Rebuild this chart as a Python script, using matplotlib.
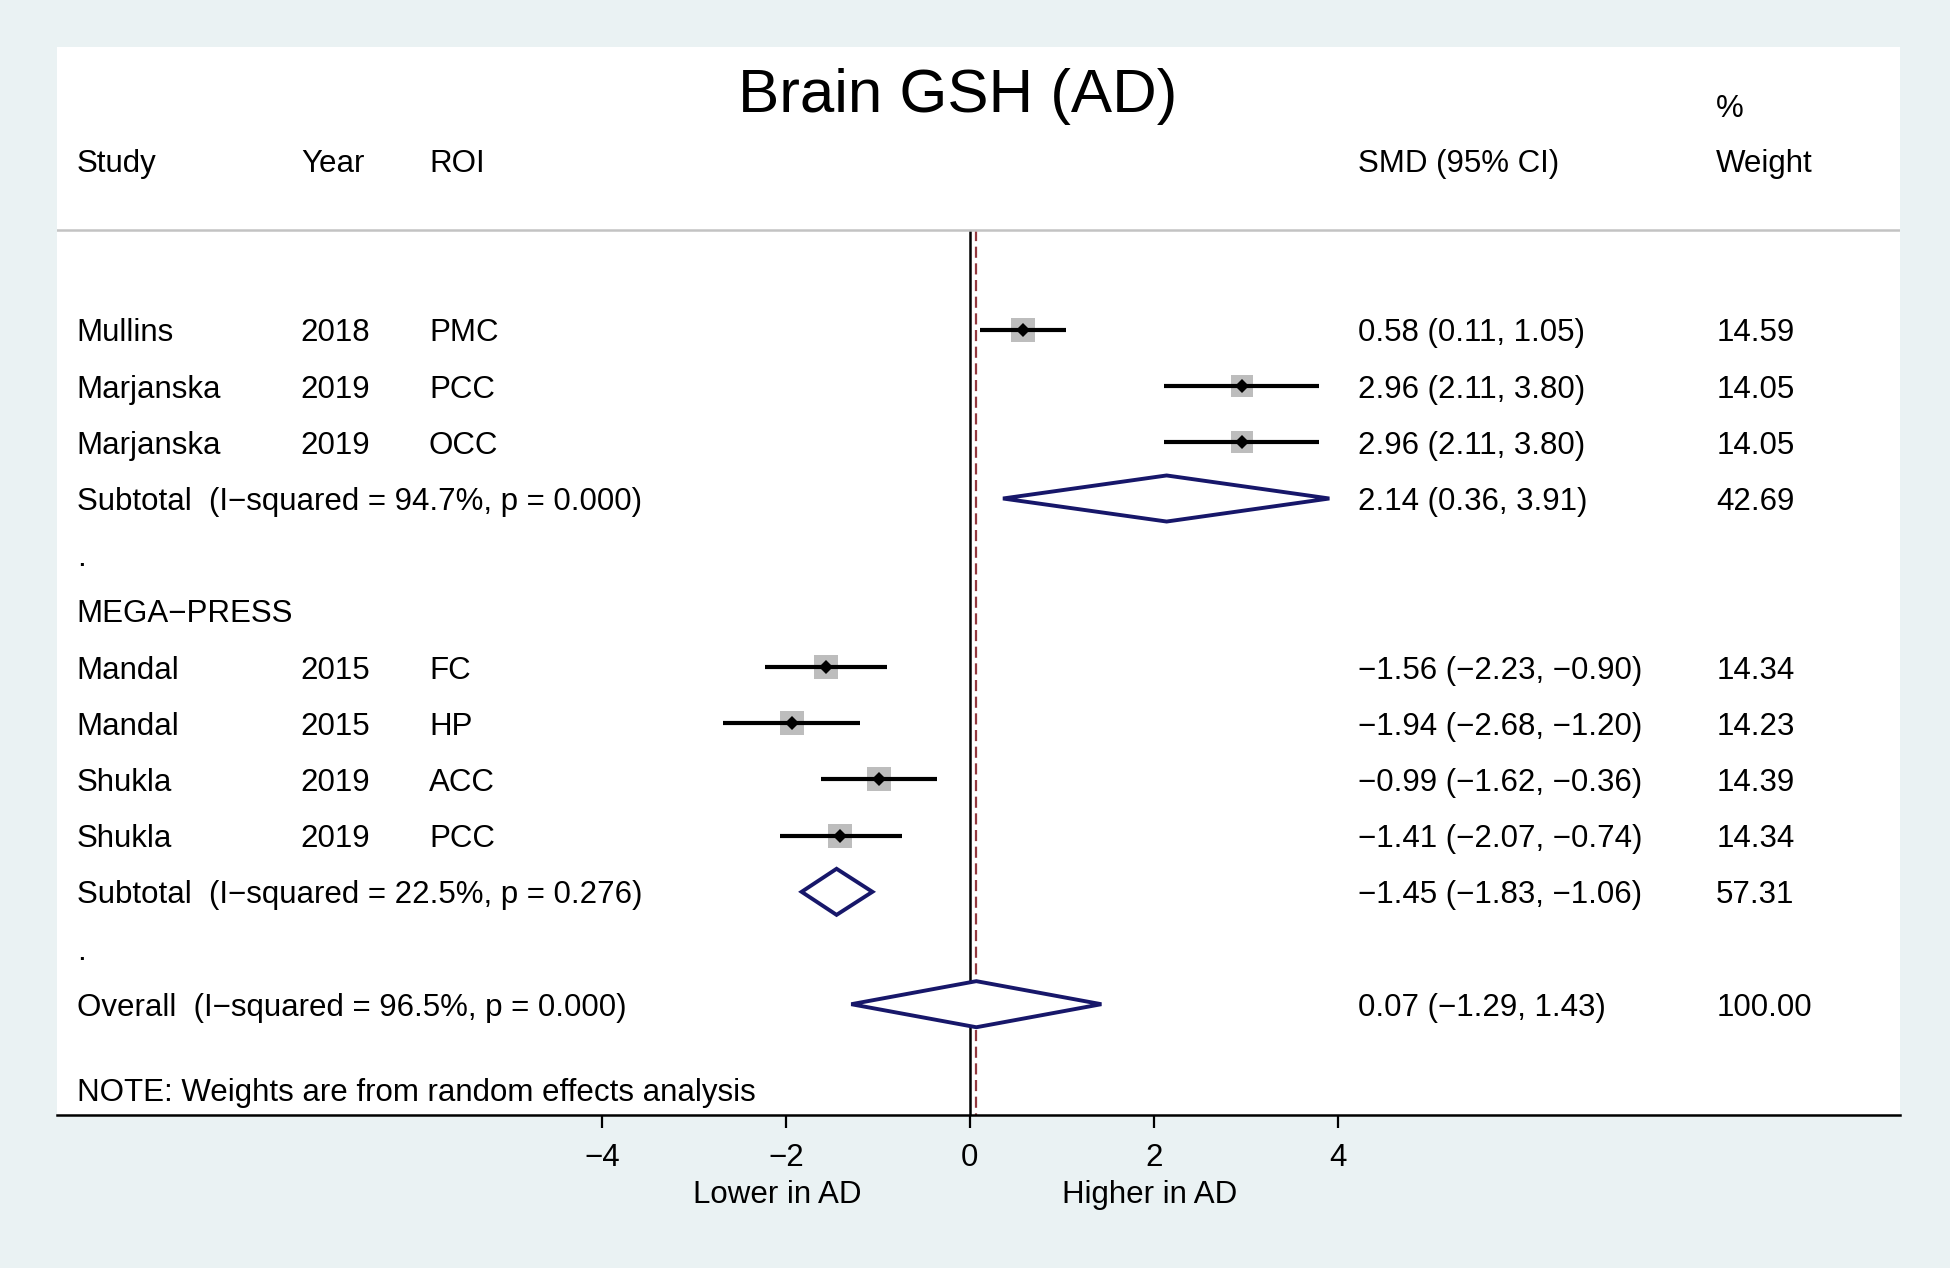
import matplotlib
matplotlib.use("Agg")
import matplotlib.pyplot as plt
import matplotlib.transforms as mtransforms
import numpy as np

plt.rcParams['font.family'] = ['Liberation Sans', 'DejaVu Sans']
plt.rcParams['axes.unicode_minus'] = True

# study level data
studies = ["Mullins", "Marjanska", "Marjanska", "Mandal", "Mandal", "Shukla", "Shukla"]
years = [2018, 2019, 2019, 2015, 2015, 2019, 2019]
rois = ["PMC", "PCC", "OCC", "FC", "HP", "ACC", "PCC"]
smd = [0.58, 2.96, 2.96, -1.56, -1.94, -0.99, -1.41]
ci_lo = [0.11, 2.11, 2.11, -2.23, -2.68, -1.62, -2.07]
ci_hi = [1.05, 3.80, 3.80, -0.90, -1.20, -0.36, -0.74]
weights = [14.59, 14.05, 14.05, 14.34, 14.23, 14.39, 14.34]
group_of = [0, 0, 0, 1, 1, 1, 1]

# subgroups
group_names = ["", "MEGA\u2212PRESS"]
sub_smd = [2.14, -1.45]
sub_lo = [0.36, -1.83]
sub_hi = [3.91, -1.06]
sub_w = [42.69, 57.31]
sub_i2 = [94.7, 22.5]
sub_p = [0.000, 0.276]

# overall
ov_smd, ov_lo, ov_hi, ov_w = 0.07, -1.29, 1.43, 100.00
ov_i2, ov_p = 96.5, 0.000

xticks = [-4, -2, 0, 2, 4]

NAVY = "#17176a"
MAROON = "#93393f"
BG = "#eaf2f3"
FS = 22.5


def fmt(v):
    return f"{v:.2f}".replace("-", "\u2212")


def ci_text(e, lo, hi):
    return f"{fmt(e)} ({fmt(lo)}, {fmt(hi)})"


fig = plt.figure(figsize=(19.5, 12.68), dpi=100, facecolor=BG)
ax = fig.add_axes([0.0292, 0.1203, 0.9453, 0.8424])
ax.set_facecolor("white")
ax.set_xlim(-9.93, 10.12)
y_bottom, y_top = 14.98, -4.03
ax.set_ylim(y_bottom, y_top)

tr = mtransforms.blended_transform_factory(ax.transAxes, ax.transData)
col_study, col_year, col_roi, col_ci, col_w = 0.0108, 0.1323, 0.2018, 0.7058, 0.9001


def put(x, y, s, **kw):
    ax.text(x, y, s, transform=tr, fontsize=FS, va="center_baseline", ha="left", **kw)


def diamond(e, lo, hi, y, h=0.41):
    ax.fill([lo, e, hi, e, lo], [y, y - h, y, y + h, y], facecolor="white",
            edgecolor=NAVY, lw=2.8, zorder=4)


# headers
ax.text(0.4885, -3.27, "Brain GSH (AD)", transform=tr, fontsize=44.5,
        ha="center", va="center_baseline")
put(col_study, -2.01, "Study")
put(col_year, -2.01, "Year")
put(col_roi, -2.01, "ROI")
put(col_ci, -2.01, "SMD (95% CI)")
put(col_w, -2.99, "%")
put(col_w, -2.01, "Weight")
sep_y = -0.774
ax.axhline(sep_y, color="#c3c3c3", lw=1.8)

# rows
row = 0
for g in range(len(group_names)):
    put(col_study, row, group_names[g])
    row += 1
    for i in range(len(studies)):
        if group_of[i] != g:
            continue
        ax.plot([ci_lo[i], ci_hi[i]], [row, row], color="black", lw=3.0, zorder=3,
                solid_capstyle="butt")
        ax.plot(smd[i], row, marker="s", ms=4.4 * np.sqrt(weights[i]),
                color="#bdbdbd", mew=0, zorder=2)
        ax.plot(smd[i], row, marker="D", ms=7.5, color="black", mew=0, zorder=4)
        put(col_study, row, studies[i])
        put(col_year, row, str(years[i]))
        put(col_roi, row, rois[i])
        put(col_ci, row, ci_text(smd[i], ci_lo[i], ci_hi[i]))
        put(col_w, row, f"{weights[i]:.2f}")
        row += 1
    diamond(sub_smd[g], sub_lo[g], sub_hi[g], row)
    put(col_study, row, f"Subtotal  (I\u2212squared = {sub_i2[g]:.1f}%, p = {sub_p[g]:.3f})")
    put(col_ci, row, ci_text(sub_smd[g], sub_lo[g], sub_hi[g]))
    put(col_w, row, f"{sub_w[g]:.2f}")
    row += 1
    put(col_study, row, ".")
    row += 1

diamond(ov_smd, ov_lo, ov_hi, row)
put(col_study, row, f"Overall  (I\u2212squared = {ov_i2:.1f}%, p = {ov_p:.3f})")
put(col_ci, row, ci_text(ov_smd, ov_lo, ov_hi))
put(col_w, row, f"{ov_w:.2f}")
put(col_study, row + 1.51, "NOTE: Weights are from random effects analysis")

# reference lines
ax.vlines(0, sep_y, y_bottom, color="black", lw=1.8, zorder=1)
ax.vlines(ov_smd, sep_y, y_bottom, color=MAROON, lw=1.6, linestyles=(0, (5, 2.5)), zorder=1)

# axis
for s in ["top", "left", "right"]:
    ax.spines[s].set_visible(False)
ax.spines["bottom"].set_linewidth(1.8)
ax.set_xticks(xticks)
ax.set_xticklabels([str(t).replace("-", "\u2212") for t in xticks])
ax.set_yticks([])
ax.tick_params(axis="x", length=9, width=1.6, pad=11, labelsize=FS)

trb = mtransforms.blended_transform_factory(ax.transData, fig.transFigure)
ax.text(-2.1, 0.0607, "Lower in AD", transform=trb, fontsize=FS, ha="center", va="center_baseline")
ax.text(1.96, 0.0607, "Higher in AD", transform=trb, fontsize=FS, ha="center", va="center_baseline")

fig.savefig("out.png", dpi=100, facecolor=BG)
